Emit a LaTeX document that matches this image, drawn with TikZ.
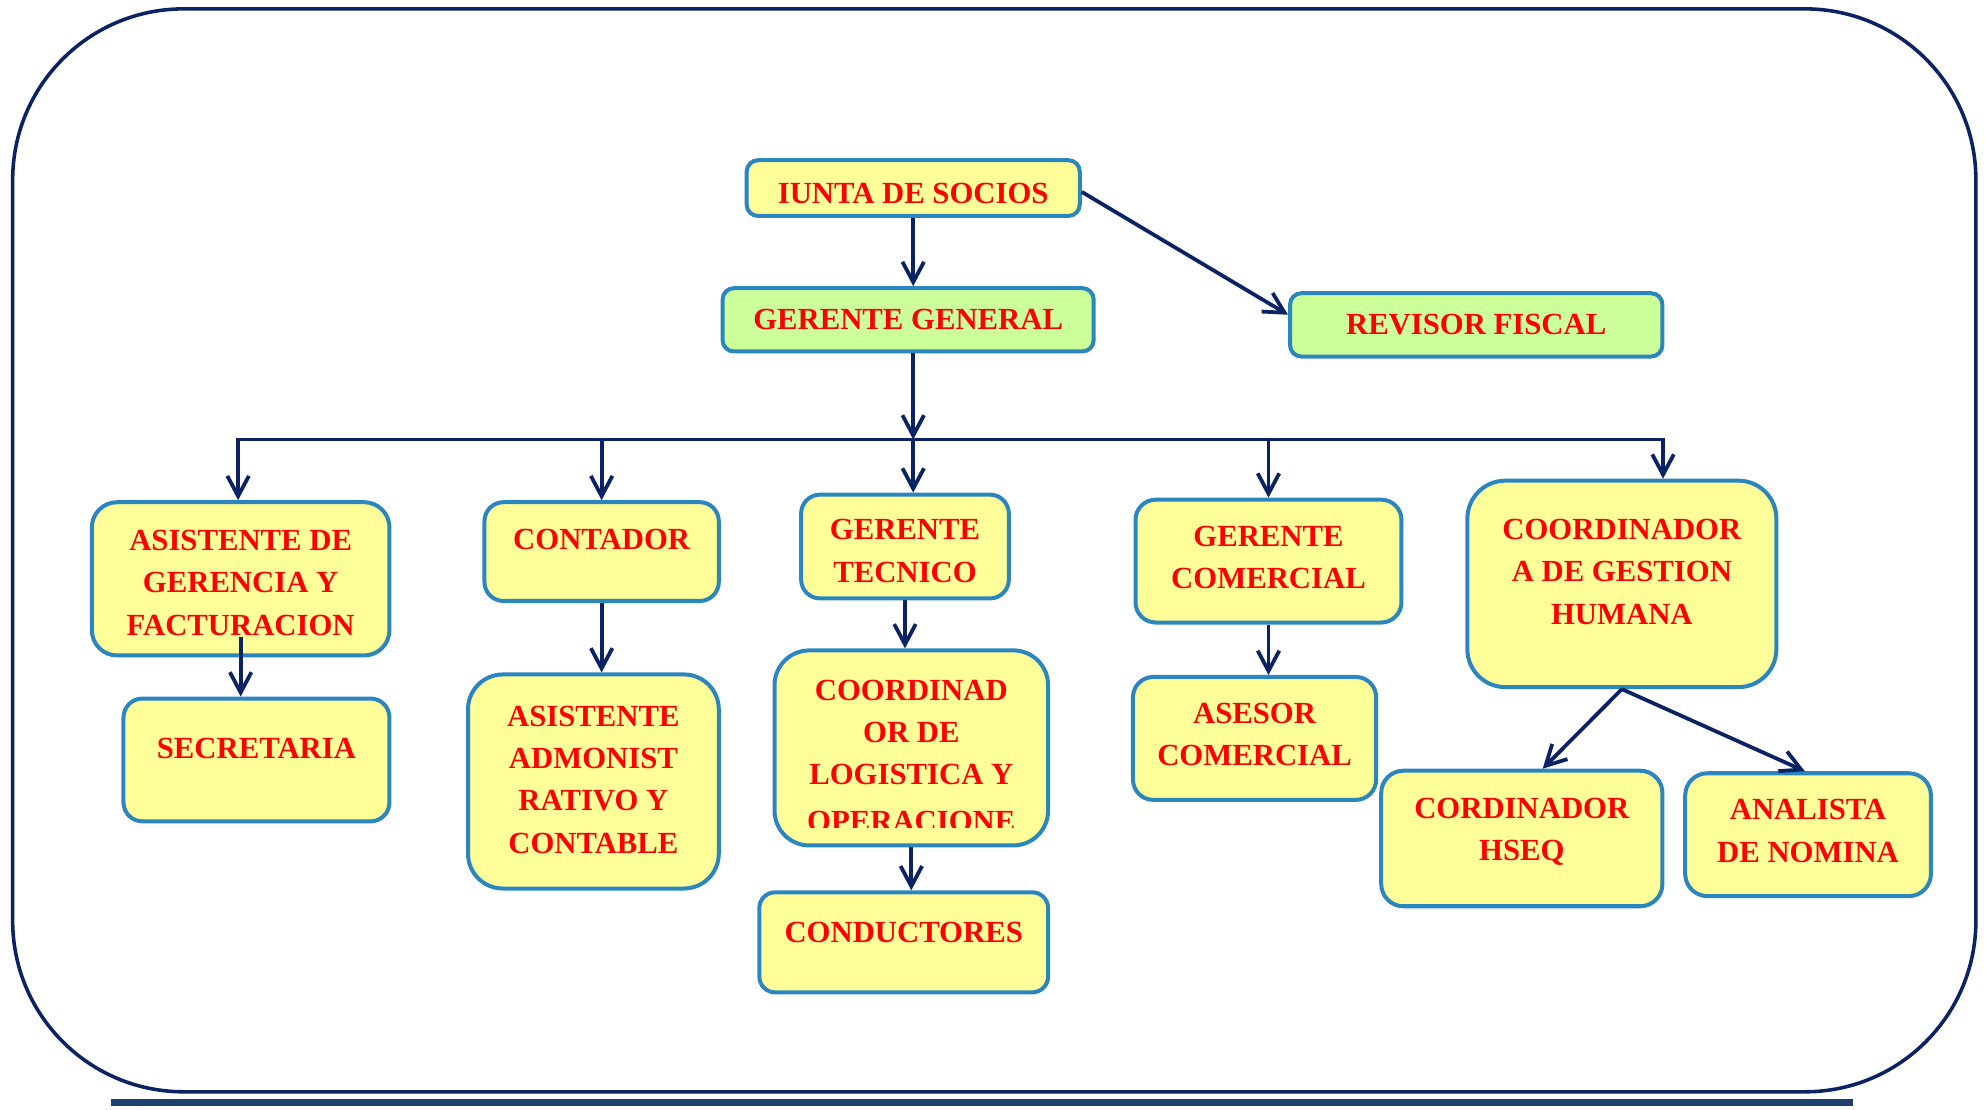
\documentclass[tikz,border=0pt]{standalone}
\usepackage{fontspec}
\setmainfont{Liberation Serif}
\usepackage{xcolor}
\usepackage{trimclip}
\usepackage{tikz}
\usetikzlibrary{arrows.meta}
\usetikzlibrary{calc}

\definecolor{linenavy}{HTML}{0B2365}
\definecolor{boxblue}{HTML}{2B86BF}
\definecolor{boxyellow}{HTML}{FFFF99}
\definecolor{boxgreen}{HTML}{CCFF99}
\definecolor{textred}{HTML}{FF0000}
\definecolor{barblue}{HTML}{1F3F6E}

\begin{document}
\begin{tikzpicture}
[
	x = 0.2mm, y = -0.2mm,
	box/.style	= {rectangle, draw = boxblue, fill = boxyellow, line width = 1.8pt, inner sep = 0pt, align = center, text = textred, font = \fontsize{13.8}{19}\selectfont\bfseries},
	greenbox/.style	= {box, fill = boxgreen},
	dims/.style 2 args	= {minimum width = #1, minimum height = #2},
	lift/.style 2 args	= {text height = #1, text depth = #2},
	link/.style	= {draw = linenavy, line width = 1.7pt, -{Straight Barb[length = 3.2mm, width = 3.4mm]}},
	frame/.style	= {draw = linenavy, line width = 1.6pt, rounded corners = 27mm},
]

	\useasboundingbox (0,0) rectangle (1568,876);
	\draw [frame] (10,7) rectangle (1560,862);
	\fill [barblue] (88,868) rectangle (1463,873);

	\node (junta) [box, dims = {52.6mm}{8.8mm}, rounded corners = 1.8mm, lift = {13.6pt}{0pt}] at (721,148.5) {IUNTA DE SOCIOS};
	\node (gg) [greenbox, dims = {58.6mm}{10mm}, rounded corners = 1.8mm] at (717,252.5) {GERENTE GENERAL};
	\node (rev) [greenbox, dims = {58.8mm}{10mm}, rounded corners = 1.8mm] at (1165.5,256.5) {REVISOR FISCAL};
	%
	\node (asist) [box, dims = {47mm}{24.2mm}, rounded corners = 4mm, lift = {57pt}{6.5pt}] at (190,457) {ASISTENTE DE\\GERENCIA Y\\FACTURACION};
	\node (secre) [box, dims = {42mm}{19.4mm}, rounded corners = 3mm, lift = {19pt}{20.1pt}] at (202.5,600) {SECRETARIA};
	%
	\node (conta) [box, dims = {37mm}{15.6mm}, rounded corners = 3mm, lift = {19pt}{20.7pt}] at (475,435.5) {CONTADOR};
	\node (asadm) [box, dims = {39.6mm}{33.8mm}, rounded corners = 5.5mm, lift = {76pt}{11.6pt}] at (468.5,617) {ASISTENTE\\ADMONIST\\RATIVO Y\\CONTABLE};
	%
	\node (gtec) [box, dims = {32.8mm}{16.4mm}, rounded corners = 3mm, lift = {38pt}{5.9pt}] at (714.5,431.5) {GERENTE\\TECNICO};
	\node (clog) [box, dims = {43.2mm}{30.8mm}, rounded corners = 5.5mm, lift = {76pt}{4.8pt}] at (719.5,590.5) {COORDINAD\\OR DE\\LOGISTICA Y\\\clipbox{0pt 2pt 0pt 0pt}{OPERACIONE}};
	\node (cond) [box, dims = {45.6mm}{15.8mm}, rounded corners = 2.5mm, lift = {19pt}{19pt}] at (713.5,744) {CONDUCTORES};
	%
	\node (gcom) [box, dims = {42mm}{19.4mm}, rounded corners = 3.2mm, lift = {38pt}{13.3pt}] at (1001.5,443) {GERENTE\\COMERCIAL};
	\node (ases) [box, dims = {38.4mm}{19.4mm}, rounded corners = 3.2mm, lift = {38pt}{13.3pt}] at (990.5,583) {ASESOR\\COMERCIAL};
	%
	\node (cgh) [box, dims = {48.8mm}{32.6mm}, rounded corners = 6mm, lift = {57pt}{20.9pt}] at (1280.5,461) {COORDINADOR\\A DE GESTION\\HUMANA};
	\node (hseq) [box, dims = {44.4mm}{21.4mm}, rounded corners = 3.5mm, lift = {38pt}{17.8pt}] at (1201.5,662) {CORDINADOR\\HSEQ};
	\node (nomi) [box, dims = {38.8mm}{19.4mm}, rounded corners = 3.5mm, lift = {38pt}{13.3pt}] at (1427.5,659) {ANALISTA\\DE NOMINA};

	\coordinate (bus) at (721,347);

	\draw [link] (junta.south) -- (junta.south |- gg.north);
	\draw [link] ([yshift = -0.6mm]junta.east) -- ([yshift = 1.6mm]rev.west);
	\draw [link] (bus |- gg.south) -- (bus);
	%
	\draw [link] (bus) -| ([xshift = -0.4mm]asist.north);
	\draw [link] (bus) -| ([xshift = 6.5mm]cgh.north);
	\draw [link] (conta.north |- bus) -- (conta.north);
	\draw [link] (bus) -- (bus |- gtec.north);
	\draw [link] (gcom.north |- bus) -- (gcom.north);

	\draw [link] ([yshift = 3.2mm]asist.south) -- (asist.south |- secre.north);
	\draw [link] (conta.south) -- (conta.south |- asadm.north);
	\draw [link] (gtec.south) -- (gtec.south |- clog.north);
	\draw [link] (clog.south) -- (clog.south |- cond.north);
	\draw [link] (gcom.south) -- (gcom.south |- ases.north);
	%
	\draw [link] (cgh.south) -- ([xshift = 3.3mm]hseq.north);
	\draw [link] (cgh.south) -- ([xshift = -0.5mm]nomi.north);

\end{tikzpicture}
\end{document}
